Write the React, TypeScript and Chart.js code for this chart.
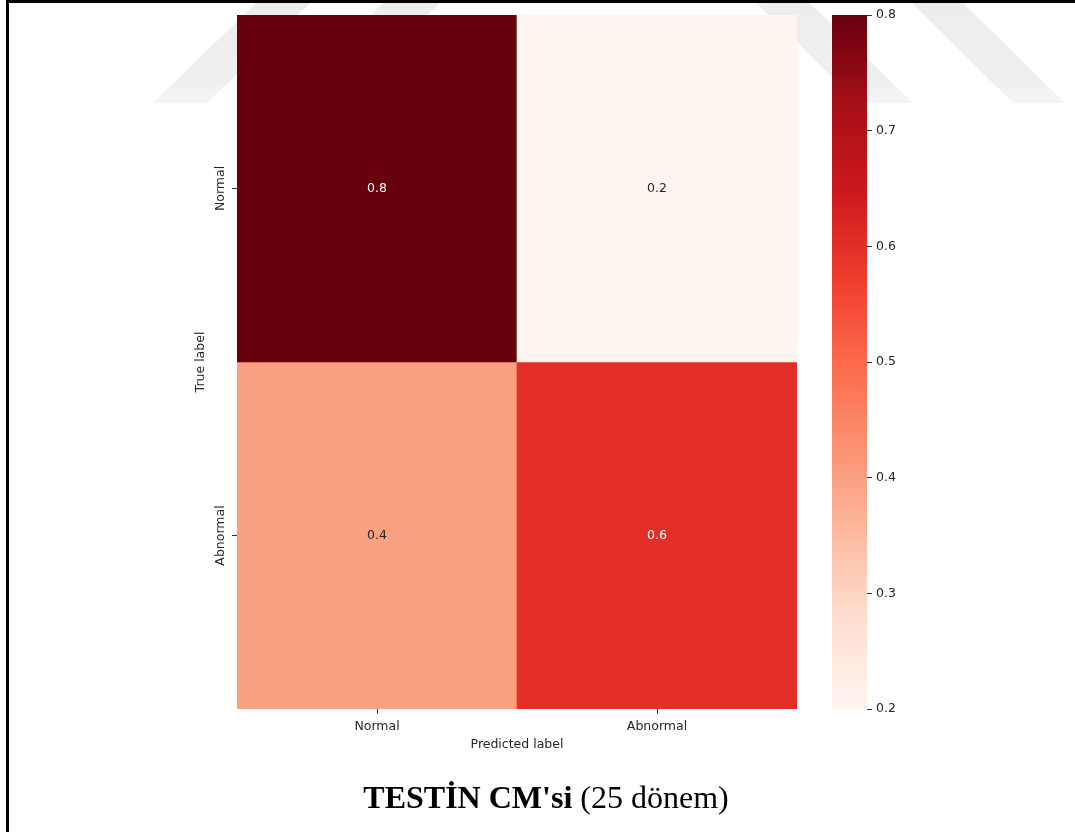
import React, { useEffect, useRef } from "react";
import { Chart, registerables } from "chart.js";
Chart.register(...registerables);

// ---- data ----
const predictedLabels = ["Normal", "Abnormal"];
const trueLabels = ["Normal", "Abnormal"];
const normalRow = [0.8, 0.2];
const abnormalRow = [0.4, 0.6];
const vmin = 0.2;
const vmax = 0.8;
const colorbarStep = 0.1;
const xTitle = "Predicted label";
const yTitle = "True label";
const captionBold = "TESTİN CM'si";
const captionNormal = " (25 dönem)";

// matplotlib "Reds" colormap stops
const redsStops = [
  "#fff5f0", "#fee0d2", "#fcbba1", "#fc9272", "#fb6a4a",
  "#ef3b2c", "#cb181d", "#a50f15", "#67000d",
];

function hexToRgb(h: string) {
  const n = parseInt(h.slice(1), 16);
  return [(n >> 16) & 255, (n >> 8) & 255, n & 255];
}
function reds(t: number) {
  const tt = Math.max(0, Math.min(1, t));
  const pos = tt * (redsStops.length - 1);
  const i = Math.min(Math.floor(pos), redsStops.length - 2);
  const f = pos - i;
  const a = hexToRgb(redsStops[i]);
  const b = hexToRgb(redsStops[i + 1]);
  const c = a.map((v, k) => Math.round(v + (b[k] - v) * f));
  return `rgb(${c[0]},${c[1]},${c[2]})`;
}
const norm = (v: number) => (v - vmin) / (vmax - vmin);

const FONT = "'DejaVu Sans'";
const TEXT = "#262626";
const TICK = "#333333";

export default function App() {
  const mainRef = useRef<HTMLCanvasElement>(null);
  const cbRef = useRef<HTMLCanvasElement>(null);

  useEffect(() => {
    const rows = [normalRow, abnormalRow];

    const decor = {
      id: "decor",
      beforeDraw(chart: any) {
        const ctx = chart.ctx;
        ctx.save();
        const g = ctx.createLinearGradient(0, 3, 0, 104);
        g.addColorStop(0, "#ededed");
        g.addColorStop(0.8, "#efefef");
        g.addColorStop(1, "#f6f6f6");
        ctx.fillStyle = g;
        const polys = [
          [[256, 3], [310, 3], [207, 103], [153, 103]],
          [[383, 3], [440, 3], [337, 103], [280, 103]],
          [[756, 3], [810, 3], [913, 103], [859, 103]],
          [[912, 3], [963, 3], [1065, 103], [1013, 103]],
        ];
        for (const p of polys) {
          ctx.beginPath();
          ctx.moveTo(p[0][0], p[0][1]);
          for (let k = 1; k < p.length; k++) ctx.lineTo(p[k][0], p[k][1]);
          ctx.closePath();
          ctx.fill();
        }
        ctx.restore();
      },
      afterDatasetsDraw(chart: any) {
        const ctx = chart.ctx;
        ctx.save();
        ctx.font = `12.5px ${FONT}`;
        ctx.textAlign = "center";
        ctx.textBaseline = "middle";
        rows.forEach((row, r) => {
          const meta = chart.getDatasetMeta(r);
          row.forEach((v, c) => {
            const el = meta.data[c];
            const cx = el.x;
            const cy = (el.y + el.base) / 2;
            ctx.fillStyle = norm(v) > 0.5 ? "#ffffff" : TEXT;
            ctx.fillText(String(v), cx, cy);
          });
        });
        ctx.restore();
      },
      afterDraw(chart: any) {
        const ctx = chart.ctx;
        const yScale = chart.scales.y;
        ctx.save();
        // rotated y tick labels
        ctx.font = `12.5px ${FONT}`;
        ctx.fillStyle = TEXT;
        ctx.textAlign = "center";
        ctx.textBaseline = "middle";
        trueLabels.forEach((lab, i) => {
          const y = yScale.getPixelForValue(i + 0.5);
          ctx.save();
          ctx.translate(221, y);
          ctx.rotate(-Math.PI / 2);
          ctx.fillText(lab, 0, 0);
          ctx.restore();
        });
        // caption
        ctx.fillStyle = "#000000";
        ctx.textBaseline = "alphabetic";
        ctx.textAlign = "left";
        ctx.font = `bold 32px 'Liberation Serif'`;
        const wb = ctx.measureText(captionBold).width;
        ctx.font = `32px 'Liberation Serif'`;
        const wn = ctx.measureText(captionNormal).width;
        const x0 = 546 - (wb + wn) / 2;
        ctx.font = `bold 32px 'Liberation Serif'`;
        ctx.fillText(captionBold, x0, 808);
        ctx.font = `32px 'Liberation Serif'`;
        ctx.fillText(captionNormal, x0 + wb, 808);
        // frame
        ctx.fillStyle = "#000000";
        ctx.fillRect(6, 0, 3, 832);
        ctx.fillRect(6, 0, 1069, 3);
        ctx.restore();
      },
    };

    const main = new Chart(mainRef.current!, {
      type: "bar",
      data: {
        labels: predictedLabels,
        datasets: rows.map((row, r) => ({
          label: trueLabels[r],
          data: row.map(() => [r, r + 1]),
          backgroundColor: row.map((v) => reds(norm(v))),
          borderWidth: 0,
          grouped: false,
          barPercentage: 1,
          categoryPercentage: 1,
        })) as any,
      },
      options: {
        animation: false,
        responsive: false,
        layout: { padding: { left: 180, top: 15, right: 278, bottom: 63 } },
        plugins: {
          legend: { display: false },
          tooltip: { enabled: false },
        },
        scales: {
          x: {
            type: "category",
            offset: true,
            grid: {
              display: true,
              offset: false,
              drawOnChartArea: false,
              drawTicks: true,
              tickLength: 5,
              color: TICK,
              lineWidth: 1,
            },
            border: { display: false },
            ticks: { font: { family: FONT, size: 12.5 }, color: TEXT, padding: 5 },
            title: {
              display: true,
              text: xTitle,
              font: { family: FONT, size: 12.5 },
              color: TEXT,
              padding: { top: 0, bottom: 16.5 },
            },
            afterFit: (s: any) => {
              s.height = 60;
            },
          },
          y: {
            type: "linear",
            min: 0,
            max: 2,
            reverse: true,
            afterBuildTicks: (s: any) => {
              s.ticks = trueLabels.map((_, i) => ({ value: i + 0.5 }));
            },
            ticks: { callback: () => "", font: { family: FONT, size: 12.5 } },
            grid: {
              display: true,
              drawOnChartArea: false,
              drawTicks: true,
              tickLength: 5,
              color: TICK,
              lineWidth: 1,
            },
            border: { display: false },
            title: {
              display: true,
              text: yTitle,
              font: { family: FONT, size: 12.5 },
              color: TEXT,
              padding: { top: 13.5, bottom: 0 },
            },
            afterFit: (s: any) => {
              s.width = 57;
            },
          },
        },
      } as any,
      plugins: [decor],
    });

    const cb = new Chart(cbRef.current!, {
      type: "bar",
      data: {
        labels: [""],
        datasets: [
          {
            data: [[vmin, vmax]] as any,
            backgroundColor: (c: any) => {
              const area = c.chart.chartArea;
              if (!area) return reds(0.5);
              const g = c.chart.ctx.createLinearGradient(0, area.bottom, 0, area.top);
              redsStops.forEach((col, i) => g.addColorStop(i / (redsStops.length - 1), col));
              return g;
            },
            borderWidth: 0,
            barPercentage: 1,
            categoryPercentage: 1,
          },
        ],
      },
      options: {
        animation: false,
        responsive: false,
        layout: { padding: { left: 0, top: 15, right: 148, bottom: 123 } },
        plugins: { legend: { display: false }, tooltip: { enabled: false } },
        scales: {
          x: { display: false },
          y: {
            position: "right",
            min: vmin,
            max: vmax,
            ticks: {
              stepSize: colorbarStep,
              font: { family: FONT, size: 12.5 },
              color: TEXT,
              padding: 4,
            },
            grid: {
              display: true,
              drawOnChartArea: false,
              drawTicks: true,
              tickLength: 5,
              color: TICK,
            },
            border: { display: false },
            afterFit: (s: any) => {
              s.width = 60;
            },
          },
        },
      } as any,
    });

    return () => {
      main.destroy();
      cb.destroy();
    };
  }, []);

  return (
    <div style={{ position: "absolute", left: 0, top: 0, width: 1075, height: 832, background: "#ffffff" }}>
      <canvas
        ref={mainRef}
        width={1075}
        height={832}
        style={{ position: "absolute", left: 0, top: 0, width: 1075, height: 832 }}
      />
      <canvas
        ref={cbRef}
        width={243}
        height={832}
        style={{ position: "absolute", left: 832, top: 0, width: 243, height: 832 }}
      />
    </div>
  );
}
